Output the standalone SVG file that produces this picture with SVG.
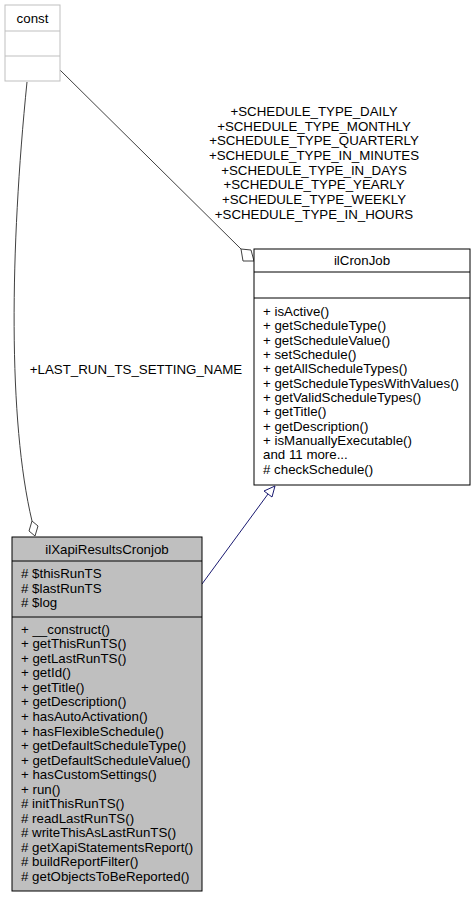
<svg xmlns="http://www.w3.org/2000/svg" width="476" height="897" viewBox="0 0 476 897">
<style>
text{font-family:"Liberation Sans",Arial,Helvetica,sans-serif;font-size:13.3px;fill:#000}
.c{text-anchor:middle}
.agg{fill:none;stroke:#404040;stroke-width:1}
.aggh{fill:#fff;stroke:#404040;stroke-width:1}
.inh{fill:none;stroke:#191970;stroke-width:1}
.inhh{fill:#fff;stroke:#191970;stroke-width:1}
</style>
<rect width="476" height="897" fill="#fff"/>
<g id="edges">
<path class="agg" d="M27,82 C10,250 8,420 32,521"/>
<polygon class="aggh" points="32,521 38,526 35,536 29,531"/>
<path class="agg" d="M60,70 L241,249"/>
<polygon class="aggh" points="241,249 251,250 254,261 243,261"/>
<text class="c" x="314" y="116">+SCHEDULE_TYPE_DAILY</text>
<text class="c" x="314" y="131">+SCHEDULE_TYPE_MONTHLY</text>
<text class="c" x="314" y="145">+SCHEDULE_TYPE_QUARTERLY</text>
<text class="c" x="314" y="160">+SCHEDULE_TYPE_IN_MINUTES</text>
<text class="c" x="314" y="175">+SCHEDULE_TYPE_IN_DAYS</text>
<text class="c" x="314" y="189">+SCHEDULE_TYPE_YEARLY</text>
<text class="c" x="314" y="204">+SCHEDULE_TYPE_WEEKLY</text>
<text class="c" x="314" y="219">+SCHEDULE_TYPE_IN_HOURS</text>
<text class="c" x="136" y="374">+LAST_RUN_TS_SETTING_NAME</text>
<path class="inh" d="M202,584 L268,494"/>
<polygon class="inhh" points="275,486 264,491 272,497"/>
</g>
<g id="const">
<rect x="5" y="5" width="55" height="76" fill="#fff" stroke="#bfbfbf"/>
<line x1="5" y1="31" x2="60" y2="31" stroke="#bfbfbf"/>
<line x1="5" y1="56" x2="60" y2="56" stroke="#bfbfbf"/>
<text class="c" x="32.5" y="23">const</text>
</g>
<g id="ilCronJob">
<rect x="254" y="249" width="216" height="236" fill="#fff" stroke="#000"/>
<line x1="254" y1="272" x2="470" y2="272" stroke="#000"/>
<line x1="254" y1="298" x2="470" y2="298" stroke="#000"/>
<text class="c" x="362" y="265">ilCronJob</text>
<text x="263" y="316">+ isActive()</text>
<text x="263" y="330">+ getScheduleType()</text>
<text x="263" y="345">+ getScheduleValue()</text>
<text x="263" y="359">+ setSchedule()</text>
<text x="263" y="373">+ getAllScheduleTypes()</text>
<text x="263" y="388">+ getScheduleTypesWithValues()</text>
<text x="263" y="402">+ getValidScheduleTypes()</text>
<text x="263" y="416">+ getTitle()</text>
<text x="263" y="431">+ getDescription()</text>
<text x="263" y="445">+ isManuallyExecutable()</text>
<text x="263" y="459">and 11 more...</text>
<text x="263" y="474">&#35; checkSchedule()</text>
</g>
<g id="ilXapiResultsCronjob">
<rect x="12" y="537" width="190" height="354" fill="#bfbfbf" stroke="#000"/>
<line x1="12" y1="561" x2="202" y2="561" stroke="#000"/>
<line x1="12" y1="617" x2="202" y2="617" stroke="#000"/>
<text class="c" x="107" y="554">ilXapiResultsCronjob</text>
<text x="21" y="578"># $thisRunTS</text>
<text x="21" y="593"># $lastRunTS</text>
<text x="21" y="607"># $log</text>
<text x="21" y="634">+ __construct()</text>
<text x="21" y="648">+ getThisRunTS()</text>
<text x="21" y="663">+ getLastRunTS()</text>
<text x="21" y="677">+ getId()</text>
<text x="21" y="692">+ getTitle()</text>
<text x="21" y="706">+ getDescription()</text>
<text x="21" y="721">+ hasAutoActivation()</text>
<text x="21" y="736">+ hasFlexibleSchedule()</text>
<text x="21" y="750">+ getDefaultScheduleType()</text>
<text x="21" y="765">+ getDefaultScheduleValue()</text>
<text x="21" y="779">+ hasCustomSettings()</text>
<text x="21" y="794">+ run()</text>
<text x="21" y="808"># initThisRunTS()</text>
<text x="21" y="823"># readLastRunTS()</text>
<text x="21" y="837"># writeThisAsLastRunTS()</text>
<text x="21" y="852"># getXapiStatementsReport()</text>
<text x="21" y="866"># buildReportFilter()</text>
<text x="21" y="881"># getObjectsToBeReported()</text>
</g>
</svg>
